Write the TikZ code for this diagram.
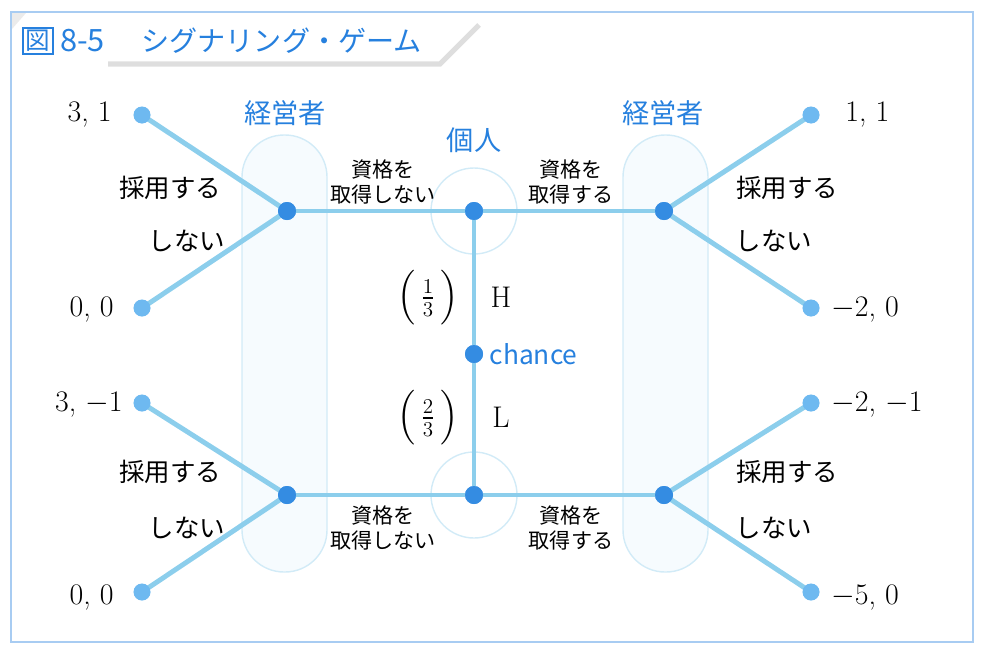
\documentclass[tikz,border=0pt]{standalone}
\usepackage{amsmath}
\usepackage{fontspec}
\newfontfamily\jpfont{Noto Sans CJK JP}
\usetikzlibrary{positioning}

\definecolor{branchblue}{RGB}{140,206,236}
\definecolor{dotblue}{RGB}{52,140,226}
\definecolor{endblue}{RGB}{110,185,240}
\definecolor{labelblue}{RGB}{38,128,222}
\definecolor{setline}{RGB}{210,235,247}
\definecolor{setfill}{RGB}{246,251,254}

\begin{document}
\begin{tikzpicture}[
        x = 0.02cm, y = -0.02cm,
        every node/.style = {inner sep = 0pt},
        branch/.style = {draw = branchblue, line width = 2.8pt},
        decision/.style = {circle, fill = dotblue, minimum size = 0.36cm},
        terminal/.style = {circle, fill = endblue, minimum size = 0.33cm},
        infoset/.style = {draw = setline, fill = setfill, line width = 0.8pt, rounded corners = 0.84cm},
        player/.style = {text = labelblue, font = \jpfont\fontsize{15.5}{18}\selectfont},
        action/.style = {font = \jpfont\fontsize{14.5}{17}\selectfont},
        signal/.style = {align = center, font = \jpfont\fontsize{12}{14.5}\selectfont},
        payoff/.style = {font = \fontsize{17}{20}\selectfont},
        prob/.style = {font = \fontsize{17}{20}\selectfont}
    ]
        \useasboundingbox (0,0) rectangle (986,656);
        % frame and title
        \draw[labelblue!40, line width = 0.8pt] (11,12) rectangle (973,642);
        \fill[black!8] (12,13) -- (26,13) -- (12,29) -- cycle;
        \draw[black!13, line width = 3pt] (108,64) -- (440,64) -- (479,25);
        \node[draw = labelblue, line width = 1pt, inner sep = 1.5pt, text = labelblue,
              font = \jpfont\fontsize{14}{16}\selectfont] (fig) at (38,41) {図};
        \node[right = 0.12cm of fig, text = labelblue, font = \jpfont\fontsize{16}{19}\selectfont]
            (title) {{\fontsize{17.5}{19}\selectfont 8-5}\hspace{1.3em}シグナリング・ゲーム};

        % information sets
        \draw[infoset] (242,135) rectangle (327,572);
        \draw[infoset] (623,135) rectangle (708,572);
        \draw[setline, line width = 0.8pt] (474,211) circle (43);
        \draw[setline, line width = 0.8pt] (474,495) circle (43);

        % nodes
        \node[decision] (chance) at (474,354) {};
        \node[decision] (iH) at (474,211) {};
        \node[decision] (iL) at (474,495) {};
        \node[decision] (mHn) at (287,211) {};
        \node[decision] (mHy) at (664,211) {};
        \node[decision] (mLn) at (287,495) {};
        \node[decision] (mLy) at (664,495) {};
        \node[terminal] (t1) at (142,115) {};
        \node[terminal] (t2) at (142,308) {};
        \node[terminal] (t3) at (142,403) {};
        \node[terminal] (t4) at (142,592) {};
        \node[terminal] (t5) at (811,115) {};
        \node[terminal] (t6) at (811,308) {};
        \node[terminal] (t7) at (811,403) {};
        \node[terminal] (t8) at (811,592) {};

        % branches
        \draw[branch] (iH.center) -- (chance.center) -- (iL.center);
        \draw[branch] (mHn.center) -- (iH.center) -- (mHy.center);
        \draw[branch] (mLn.center) -- (iL.center) -- (mLy.center);
        \draw[branch] (t1.center) -- (mHn.center) -- (t2.center);
        \draw[branch] (t3.center) -- (mLn.center) -- (t4.center);
        \draw[branch] (t5.center) -- (mHy.center) -- (t6.center);
        \draw[branch] (t7.center) -- (mLy.center) -- (t8.center);
        \foreach \n in {chance, iH, iL, mHn, mHy, mLn, mLy}
            \fill[dotblue] (\n) circle (9);
        \foreach \n in {t1, t2, t3, t4, t5, t6, t7, t8}
            \fill[endblue] (\n) circle (8.5);

        % labels
        \node[player] (mgrL) at (285,113) {経営者};
        \node[player] (mgrR) at (663,113) {経営者};
        \node[player] (indiv) at (474,140) {個人};
        \node[right = 0.12cm of chance, text = labelblue,
              font = \jpfont\fontsize{15}{17}\selectfont] (chancelab) {chance};
        \node[prob] (pH) at (428,298) {$\Bigl(\,\frac{1}{3}\,\Bigr)$};
        \node[prob] (typeH) at (501,297) {H};
        \node[prob] (pL) at (428,418) {$\Bigl(\,\frac{2}{3}\,\Bigr)$};
        \node[prob] (typeL) at (501,417) {L};

        \node[signal] (sHn) at (383,182) {資格を\\取得しない};
        \node[signal] (sHy) at (571,182) {資格を\\取得する};
        \node[signal] (sLn) at (383,528) {資格を\\取得しない};
        \node[signal] (sLy) at (571,528) {資格を\\取得する};

        \node[action] (a1) at (170,188) {採用する};
        \node[action] (a2) at (187,241) {しない};
        \node[action] (a3) at (170,472) {採用する};
        \node[action] (a4) at (187,528) {しない};
        \node[action] (a5) at (787,188) {採用する};
        \node[action] (a6) at (774,241) {しない};
        \node[action] (a7) at (787,472) {採用する};
        \node[action] (a8) at (774,528) {しない};

        \node[payoff, anchor = east] (u1) at (112,115) {3, 1};
        \node[payoff, anchor = east] (u2) at (114,310) {0, 0};
        \node[payoff, anchor = east] (u3) at (123,405) {3, $-$1};
        \node[payoff, anchor = east] (u4) at (114,598) {0, 0};
        \node[payoff, anchor = west] (u5) at (845,115) {1, 1};
        \node[payoff, anchor = west] (u6) at (831,310) {$-$2, 0};
        \node[payoff, anchor = west] (u7) at (831,405) {$-$2, $-$1};
        \node[payoff, anchor = west] (u8) at (831,598) {$-$5, 0};
    \end{tikzpicture}
\end{document}
